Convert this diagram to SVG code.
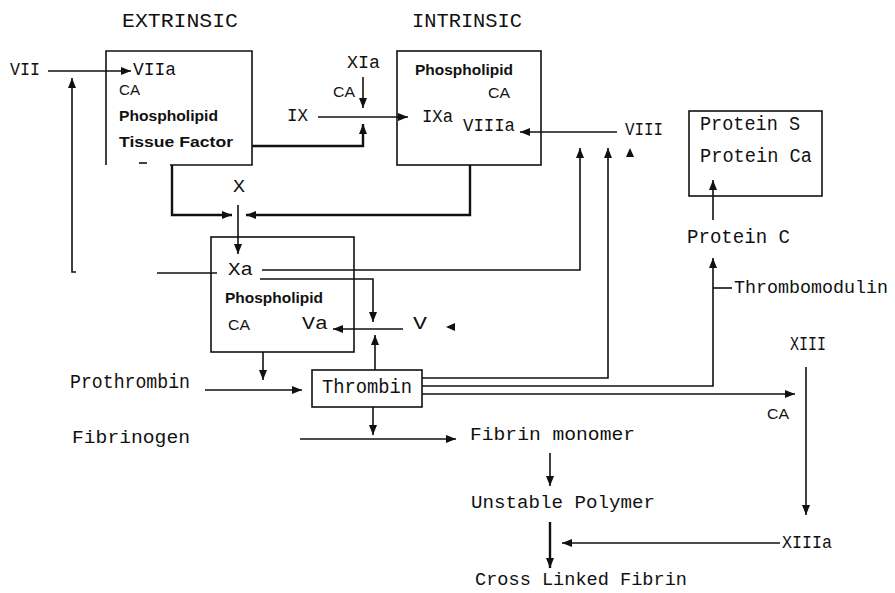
<svg xmlns="http://www.w3.org/2000/svg" width="895" height="593" viewBox="0 0 895 593">
<style>
.m{font-family:"Liberation Mono","DejaVu Sans Mono",monospace;fill:#111}
.s{font-family:"Liberation Sans",Arial,sans-serif;font-weight:bold;fill:#111}
.n{font-family:"Liberation Sans",Arial,sans-serif;fill:#111}
.box{fill:none;stroke:#111;stroke-width:1.6}
.c{fill:none;stroke:#111;stroke-width:1.6}
.t{fill:none;stroke:#111;stroke-width:2.4}
</style>
<defs>
<marker id="a" markerUnits="userSpaceOnUse" markerWidth="10" markerHeight="8" refX="10" refY="4" orient="auto">
<path d="M0,0 L10,4 L0,8 z" fill="#111"/>
</marker>
</defs>
<rect width="895" height="593" fill="#fff"/>
<text class="m" x="122" y="27" font-size="20" textLength="116" lengthAdjust="spacingAndGlyphs">EXTRINSIC</text>
<text class="m" x="412" y="27" font-size="20" textLength="110" lengthAdjust="spacingAndGlyphs">INTRINSIC</text>

<g id="extrinsic">
<path class="box" d="M170,165 L252,165 L252,51 L106,51 L106,165"/>
<path class="box" d="M139,163 L147,163"/>
<text class="m" x="133" y="75" font-size="18" textLength="43" lengthAdjust="spacingAndGlyphs">VIIa</text>
<text class="n" x="119" y="95" font-size="14" textLength="21" lengthAdjust="spacingAndGlyphs">CA</text>
<text class="s" x="119" y="121" font-size="15" textLength="99" lengthAdjust="spacingAndGlyphs">Phospholipid</text>
<text class="s" x="119" y="147" font-size="15" textLength="114" lengthAdjust="spacingAndGlyphs">Tissue Factor</text>
</g>
<g id="intrinsic">
<rect class="box" x="397" y="51" width="144" height="114"/>
<text class="s" x="415" y="75" font-size="15" textLength="98" lengthAdjust="spacingAndGlyphs">Phospholipid</text>
<text class="n" x="488" y="98" font-size="14" textLength="22" lengthAdjust="spacingAndGlyphs">CA</text>
<text class="m" x="422" y="122" font-size="18" textLength="31" lengthAdjust="spacingAndGlyphs">IXa</text>
<text class="m" x="463" y="131" font-size="18" textLength="52" lengthAdjust="spacingAndGlyphs">VIIIa</text>
</g>
<g id="xa-complex">
<rect class="box" x="211" y="237" width="143" height="115"/>
<text class="m" x="228" y="275" font-size="18" textLength="25" lengthAdjust="spacingAndGlyphs">Xa</text>
<text class="s" x="225" y="303" font-size="15" textLength="98" lengthAdjust="spacingAndGlyphs">Phospholipid</text>
<text class="n" x="228" y="330" font-size="14" textLength="22" lengthAdjust="spacingAndGlyphs">CA</text>
<text class="m" x="302" y="329" font-size="18" textLength="26" lengthAdjust="spacingAndGlyphs">Va</text>
</g>
<g id="protein-s">
<rect class="box" x="689" y="111" width="133" height="85"/>
<text class="m" x="700" y="130" font-size="20" textLength="100" lengthAdjust="spacingAndGlyphs">Protein S</text>
<text class="m" x="700" y="162" font-size="20" textLength="112" lengthAdjust="spacingAndGlyphs">Protein Ca</text>
</g>
<g id="thrombin">
<rect class="box" x="312" y="370" width="110" height="37"/>
<text class="m" x="322" y="393" font-size="20" textLength="90" lengthAdjust="spacingAndGlyphs">Thrombin</text>
</g>
<g id="vii"><text class="m" x="10" y="75" font-size="18" textLength="30" lengthAdjust="spacingAndGlyphs">VII</text></g>
<g id="xia"><text class="m" x="347" y="68" font-size="18" textLength="33" lengthAdjust="spacingAndGlyphs">XIa</text>
<text class="n" x="333" y="97" font-size="14" textLength="22" lengthAdjust="spacingAndGlyphs">CA</text></g>
<g id="ix"><text class="m" x="287" y="121" font-size="18" textLength="21" lengthAdjust="spacingAndGlyphs">IX</text></g>
<g id="viii"><text class="m" x="625" y="135" font-size="18" textLength="38" lengthAdjust="spacingAndGlyphs">VIII</text></g>
<g id="x"><text class="m" x="233" y="192" font-size="18" textLength="12" lengthAdjust="spacingAndGlyphs">X</text></g>
<g id="v"><text class="m" x="413" y="329" font-size="18" textLength="14" lengthAdjust="spacingAndGlyphs">V</text></g>
<g id="protein-c"><text class="m" x="687" y="243" font-size="20" textLength="103" lengthAdjust="spacingAndGlyphs">Protein C</text></g>
<g id="thrombomodulin"><text class="m" x="734" y="293" font-size="19" textLength="154" lengthAdjust="spacingAndGlyphs">Thrombomodulin</text></g>
<g id="prothrombin"><text class="m" x="70" y="388" font-size="20" textLength="120" lengthAdjust="spacingAndGlyphs">Prothrombin</text></g>
<g id="fibrinogen"><text class="m" x="72" y="443" font-size="18" textLength="118" lengthAdjust="spacingAndGlyphs">Fibrinogen</text></g>
<g id="fibrin-monomer"><text class="m" x="470" y="440" font-size="18" textLength="165" lengthAdjust="spacingAndGlyphs">Fibrin monomer</text></g>
<g id="unstable-polymer"><text class="m" x="471" y="508" font-size="18" textLength="184" lengthAdjust="spacingAndGlyphs">Unstable Polymer</text></g>
<g id="cross-linked"><text class="m" x="475" y="585" font-size="19" textLength="212" lengthAdjust="spacingAndGlyphs">Cross Linked Fibrin</text></g>
<g id="xiii"><text class="m" x="790" y="350" font-size="20" textLength="36" lengthAdjust="spacingAndGlyphs">XIII</text>
<text class="n" x="767" y="419" font-size="15" textLength="22" lengthAdjust="spacingAndGlyphs">CA</text></g>
<g id="xiiia"><text class="m" x="782" y="548" font-size="18" textLength="50" lengthAdjust="spacingAndGlyphs">XIIIa</text></g>

<g id="connectors">
<path class="c" d="M48,71 L131,71" marker-end="url(#a)"/>
<path class="c" d="M76,272 L72,272 L72,78" marker-end="url(#a)"/>
<path class="c" d="M157,273 L217,273"/>
<path class="t" d="M252,146 L363,146 L363,124" marker-end="url(#a)"/>
<path class="c" d="M363,77 L363,108" marker-end="url(#a)"/>
<path class="c" d="M318,117 L408,117" marker-end="url(#a)"/>
<path class="c" d="M617,132 L520,132" marker-end="url(#a)"/>
<path class="t" d="M172,165 L172,215 L232,215" marker-end="url(#a)"/>
<path class="t" d="M470,165 L470,215 L246,215" marker-end="url(#a)"/>
<path class="c" d="M238,205 L238,254" marker-end="url(#a)"/>
<path class="c" d="M262,270 L580,270 L580,148" marker-end="url(#a)"/>
<path class="c" d="M260,279 L373,279 L373,322" marker-end="url(#a)"/>
<path class="c" d="M403,329 L333,329" marker-end="url(#a)"/>
<path class="c" d="M375,370 L375,335" marker-end="url(#a)"/>
<path d="M446,327 L455,323 L455,331 z" fill="#111"/>
<path d="M630,148 L626,157 L634,157 z" fill="#111"/>
<path class="c" d="M263,352 L263,380" marker-end="url(#a)"/>
<path class="c" d="M205,390 L302,390" marker-end="url(#a)"/>
<path class="c" d="M422,378 L608,378 L608,148" marker-end="url(#a)"/>
<path class="c" d="M422,386 L713,386 L713,258" marker-end="url(#a)"/>
<path class="c" d="M713,288 L732,288"/>
<path class="c" d="M422,394 L795,394" marker-end="url(#a)"/>
<path class="c" d="M713,220 L713,180" marker-end="url(#a)"/>
<path class="c" d="M373,407 L373,435" marker-end="url(#a)"/>
<path class="c" d="M300,439 L456,439" marker-end="url(#a)"/>
<path class="c" d="M550,453 L550,486" marker-end="url(#a)"/>
<path class="t" d="M550,522 L550,568" marker-end="url(#a)"/>
<path class="c" d="M780,543 L562,543" marker-end="url(#a)"/>
<path class="c" d="M806,367 L806,515" marker-end="url(#a)"/>
</g>
</svg>
